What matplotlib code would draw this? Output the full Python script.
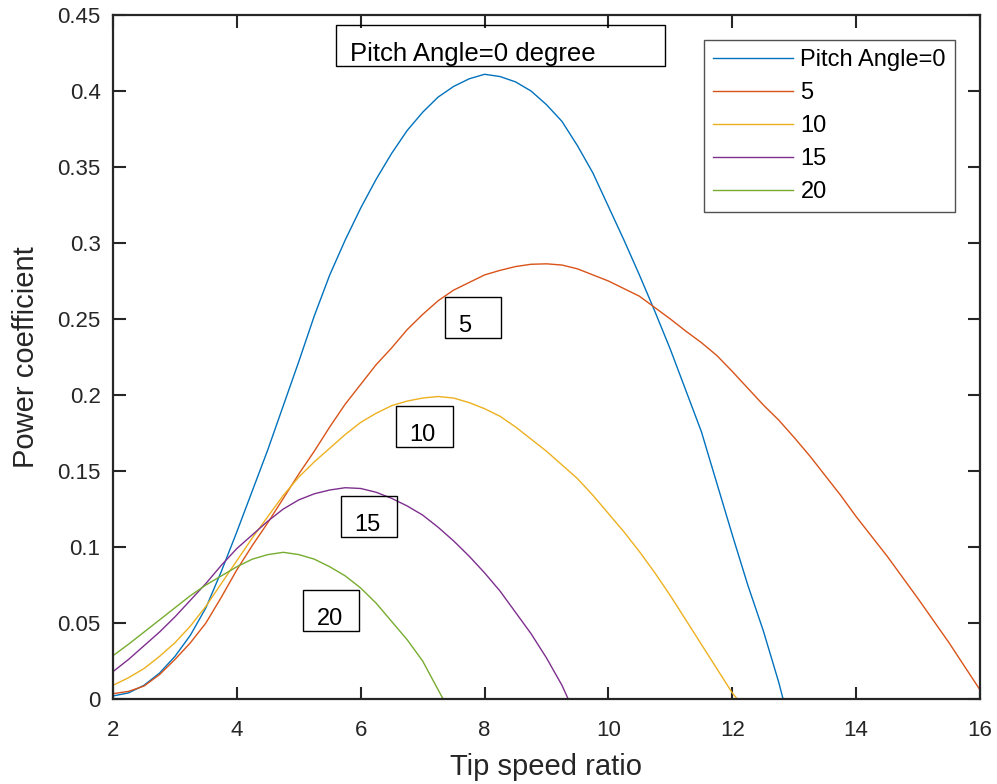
import matplotlib
matplotlib.use("Agg")
import matplotlib.pyplot as plt
from matplotlib.ticker import FuncFormatter

plt.rcParams['font.family'] = ['Liberation Sans', 'DejaVu Sans']

# values
tsr_0 = [2, 2.25, 2.5, 2.75, 3, 3.25, 3.5, 3.75, 4, 4.25, 4.5, 4.75, 5, 5.25, 5.5, 5.75, 6, 6.25, 6.5, 6.75,
         7, 7.25, 7.5, 7.75, 8, 8.25, 8.5, 8.75, 9, 9.25, 9.5, 9.75, 10, 10.25, 10.5, 10.75, 11, 11.25, 11.5,
         11.75, 12, 12.25, 12.5, 12.75, 12.82]
cp_0 = [0.002, 0.004, 0.009, 0.017, 0.028, 0.042, 0.060, 0.084, 0.110, 0.137, 0.164, 0.193, 0.222, 0.252,
        0.279, 0.302, 0.323, 0.342, 0.359, 0.374, 0.386, 0.396, 0.403, 0.408, 0.411, 0.4095, 0.406, 0.400,
        0.391, 0.380, 0.364, 0.346, 0.324, 0.302, 0.279, 0.255, 0.230, 0.203, 0.176, 0.142, 0.108, 0.075,
        0.045, 0.011, 0.0]

tsr_5 = [2, 2.25, 2.5, 2.75, 3, 3.25, 3.5, 3.75, 4, 4.25, 4.5, 4.75, 5, 5.25, 5.5, 5.75, 6, 6.25, 6.5, 6.75,
         7, 7.25, 7.5, 7.75, 8, 8.25, 8.5, 8.75, 9, 9.25, 9.5, 9.75, 10, 10.25, 10.5, 10.75, 11, 11.25, 11.5,
         11.75, 12, 12.25, 12.5, 12.75, 13, 13.25, 13.5, 13.75, 14, 14.5, 15, 15.5, 16]
cp_5 = [0.0035, 0.005, 0.0085, 0.016, 0.026, 0.037, 0.050, 0.067, 0.085, 0.101, 0.116, 0.132, 0.148, 0.163,
        0.179, 0.194, 0.207, 0.220, 0.231, 0.243, 0.253, 0.262, 0.269, 0.274, 0.279, 0.282, 0.2845, 0.286,
        0.2863, 0.2855, 0.283, 0.279, 0.275, 0.270, 0.265, 0.2575, 0.250, 0.242, 0.2345, 0.226, 0.2155,
        0.2045, 0.1935, 0.1835, 0.172, 0.160, 0.147, 0.134, 0.120, 0.094, 0.066, 0.037, 0.006]

tsr_10 = [2, 2.25, 2.5, 2.75, 3, 3.25, 3.5, 3.75, 4, 4.25, 4.5, 4.75, 5, 5.25, 5.5, 5.75, 6, 6.25, 6.5, 6.75,
          7, 7.25, 7.5, 7.75, 8, 8.25, 8.5, 8.75, 9, 9.25, 9.5, 9.75, 10, 10.25, 10.5, 10.75, 11, 11.25, 11.5,
          11.75, 12, 12.08]
cp_10 = [0.009, 0.014, 0.020, 0.028, 0.037, 0.048, 0.061, 0.076, 0.091, 0.106, 0.120, 0.134, 0.146, 0.156,
         0.165, 0.174, 0.182, 0.188, 0.193, 0.196, 0.198, 0.199, 0.198, 0.195, 0.191, 0.186, 0.179, 0.171,
         0.163, 0.154, 0.145, 0.134, 0.122, 0.110, 0.097, 0.083, 0.068, 0.052, 0.036, 0.020, 0.004, 0.0]

tsr_15 = [2, 2.25, 2.5, 2.75, 3, 3.25, 3.5, 3.75, 4, 4.25, 4.5, 4.75, 5, 5.25, 5.5, 5.75, 6, 6.25, 6.5, 6.75,
          7, 7.25, 7.5, 7.75, 8, 8.25, 8.5, 8.75, 9, 9.25, 9.35]
cp_15 = [0.018, 0.026, 0.035, 0.044, 0.054, 0.065, 0.076, 0.088, 0.099, 0.108, 0.117, 0.125, 0.131, 0.135,
         0.1375, 0.139, 0.1385, 0.136, 0.132, 0.127, 0.121, 0.113, 0.104, 0.094, 0.083, 0.071, 0.057, 0.043,
         0.027, 0.009, 0.0]

tsr_20 = [2, 2.25, 2.5, 2.75, 3, 3.25, 3.5, 3.75, 4, 4.25, 4.5, 4.75, 5, 5.25, 5.5, 5.75, 6, 6.25, 6.5, 6.75,
          7, 7.33]
cp_20 = [0.0285, 0.036, 0.044, 0.052, 0.060, 0.068, 0.075, 0.081, 0.087, 0.092, 0.095, 0.0965, 0.095, 0.092,
         0.087, 0.081, 0.073, 0.063, 0.051, 0.039, 0.025, 0.0]

series = [
    (tsr_0, cp_0, "#0072BD", "Pitch Angle=0"),
    (tsr_5, cp_5, "#D95319", "5"),
    (tsr_10, cp_10, "#EDB120", "10"),
    (tsr_15, cp_15, "#7E2F8E", "15"),
    (tsr_20, cp_20, "#77AC30", "20"),
]

# boxed labels: text, font size, box (x0, y0, x1, y1) in data units
box_labels = [
    ("Pitch Angle=0 degree", 18.5, (5.60, 0.4164, 10.91, 0.4434)),
    ("5", 17, (7.36, 0.2375, 8.27, 0.2645)),
    ("10", 17, (6.57, 0.1658, 7.49, 0.1928)),
    ("15", 17, (5.68, 0.1066, 6.59, 0.1336)),
    ("20", 17, (5.07, 0.0447, 5.97, 0.0717)),
]

dark = "#262626"

fig = plt.figure(figsize=(9.97, 7.84), dpi=100)
ax = fig.add_axes([113 / 997, 85 / 784, 867 / 997, 684 / 784])

for x, y, color, label in series:
    ax.plot(x, y, color=color, linewidth=1.0, label=label)

for text, size, (x0, y0, x1, y1) in box_labels:
    ax.add_patch(plt.Rectangle((x0, y0), x1 - x0, y1 - y0, fill=False,
                               edgecolor="black", linewidth=1.0, zorder=5))
    ax.text(x0 + 0.22, (y0 + y1) / 2 - 0.0053, text, fontsize=size,
            ha="left", va="center", color="black", zorder=6)

ax.set_xlim(2, 16)
ax.set_ylim(0, 0.45)
ax.set_xticks(range(2, 17, 2))
ax.set_yticks([i * 0.05 for i in range(10)])
ax.yaxis.set_major_formatter(FuncFormatter(lambda v, p: ("%.2f" % v).rstrip("0").rstrip(".") if v else "0"))

ax.tick_params(direction="in", length=9, width=1.5, colors=dark, labelsize=16,
               top=True, right=True)
ax.tick_params(axis="x", pad=15)
ax.tick_params(axis="y", pad=9)
for spine in ax.spines.values():
    spine.set_linewidth(1.6)
    spine.set_color(dark)

ax.set_xlabel("Tip speed ratio", fontsize=21, color=dark, labelpad=9)
ax.set_ylabel("Power coefficient", fontsize=21, color=dark, labelpad=12)

leg = ax.legend(loc="upper right", bbox_to_anchor=(0.971, 0.9635), borderaxespad=0,
                fontsize=17, frameon=True, fancybox=False, handlelength=3.4,
                handletextpad=0.3, labelspacing=0.47, borderpad=0.38)
leg.get_frame().set_edgecolor(dark)
leg.get_frame().set_linewidth(1.0)

fig.savefig("out.png", dpi=100)
